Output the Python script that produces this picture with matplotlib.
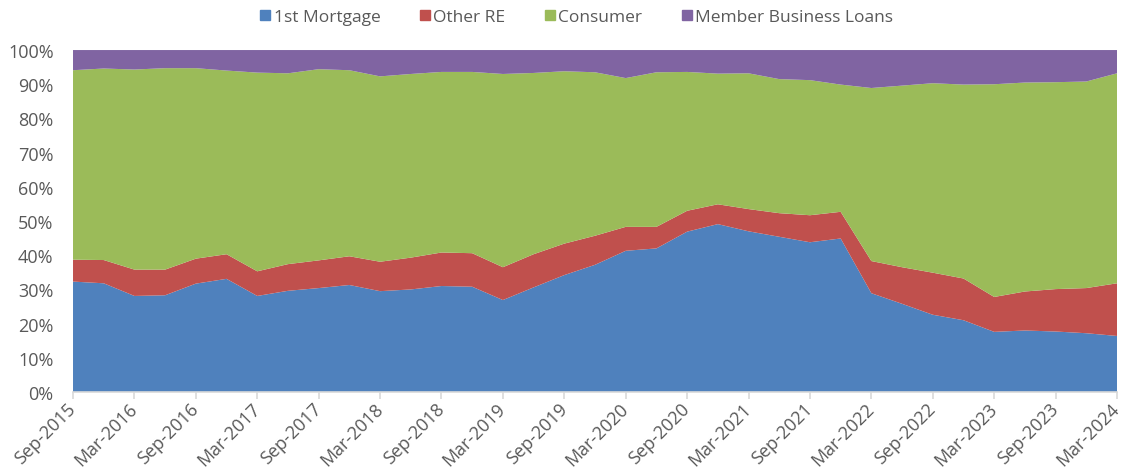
import numpy as np
import matplotlib.pyplot as plt
from matplotlib.lines import Line2D

plt.rcParams['font.family'] = ['Open Sans', 'DejaVu Sans']

# Quarterly shares of loan portfolio (%), Sep-2015 .. Mar-2024
first_mortgage = [32.3, 31.8, 28.1, 28.3, 31.7, 33.1, 28.1, 29.6, 30.4, 31.3,
                  29.5, 30.0, 31.0, 30.8, 26.9, 30.6, 34.2, 37.2, 41.3, 42.0,
                  46.9, 49.1, 47.0, 45.4, 43.8, 44.9, 28.9, 25.8, 22.6, 21.0,
                  17.6, 18.0, 17.7, 17.2, 16.4]
other_re = [6.4, 6.8, 7.7, 7.5, 7.3, 7.2, 7.2, 7.8, 8.1, 8.4,
            8.6, 9.3, 9.8, 9.8, 9.6, 9.7, 9.2, 8.5, 7.0, 6.3,
            6.1, 5.8, 6.5, 6.9, 7.9, 7.8, 9.4, 10.7, 12.3, 12.2,
            10.2, 11.4, 12.4, 13.2, 15.4]
consumer = [55.4, 56.0, 58.5, 58.9, 55.7, 53.7, 58.1, 55.8, 55.9, 54.4,
            54.2, 53.7, 52.8, 53.0, 56.5, 53.0, 50.4, 47.8, 43.5, 45.2,
            40.6, 38.2, 39.7, 39.2, 39.5, 37.2, 50.6, 53.1, 55.4, 56.7,
            62.2, 61.1, 60.5, 60.4, 61.4]
member_business = [5.9, 5.4, 5.7, 5.3, 5.3, 6.0, 6.6, 6.8, 5.6, 5.9,
                   7.7, 7.0, 6.4, 6.4, 7.0, 6.7, 6.2, 6.5, 8.2, 6.5,
                   6.4, 6.9, 6.8, 8.5, 8.8, 10.1, 11.1, 10.4, 9.7, 10.1,
                   10.0, 9.5, 9.4, 9.2, 6.8]

series_names = ['1st Mortgage', 'Other RE', 'Consumer', 'Member Business Loans']
colors = ['#4F81BD', '#C0504D', '#9BBB59', '#8064A2']

tick_labels = ['Sep-2015', 'Mar-2016', 'Sep-2016', 'Mar-2017', 'Sep-2017',
               'Mar-2018', 'Sep-2018', 'Mar-2019', 'Sep-2019', 'Mar-2020',
               'Sep-2020', 'Mar-2021', 'Sep-2021', 'Mar-2022', 'Sep-2022',
               'Mar-2023', 'Sep-2023', 'Mar-2024']

text_color = '#595959'
grid_color = '#D9D9D9'

data = np.array([first_mortgage, other_re, consumer, member_business])
# normalise each quarter to 100%
data = data / data.sum(axis=0) * 100
x = np.arange(data.shape[1])

fig = plt.figure(figsize=(11.25, 4.77), dpi=100)
ax = fig.add_axes([0.0649, 0.176, 0.928, 0.717])

ax.stackplot(x, data, colors=colors, linewidth=0)

ax.set_xlim(x[0], x[-1])
ax.set_ylim(0, 100)

ax.set_yticks(np.arange(0, 101, 10))
ax.set_yticklabels([f'{v}%' for v in range(0, 101, 10)])
ax.set_xticks(x[::2])
ax.set_xticklabels(tick_labels, rotation=45, ha='right', va='center',
                   rotation_mode='anchor')

for side in ['top', 'right', 'left']:
    ax.spines[side].set_visible(False)
ax.spines['bottom'].set_color(grid_color)
ax.spines['bottom'].set_linewidth(1.2)

ax.tick_params(axis='y', length=0, pad=14, labelsize=13, labelcolor=text_color)
ax.tick_params(axis='x', length=5, width=1.2, color=grid_color, pad=5,
               labelsize=13, labelcolor=text_color)

handles = [Line2D([], [], marker='s', linestyle='none', markersize=7,
                  markerfacecolor=c, markeredgecolor=c) for c in colors]
fig.legend(handles, series_names, loc='center', bbox_to_anchor=(0.512, 0.962),
           ncol=4, frameon=False, fontsize=12.5, labelcolor=text_color,
           handletextpad=0.15, columnspacing=2.2, handlelength=0.7)

fig.savefig('out.png', dpi=100)
